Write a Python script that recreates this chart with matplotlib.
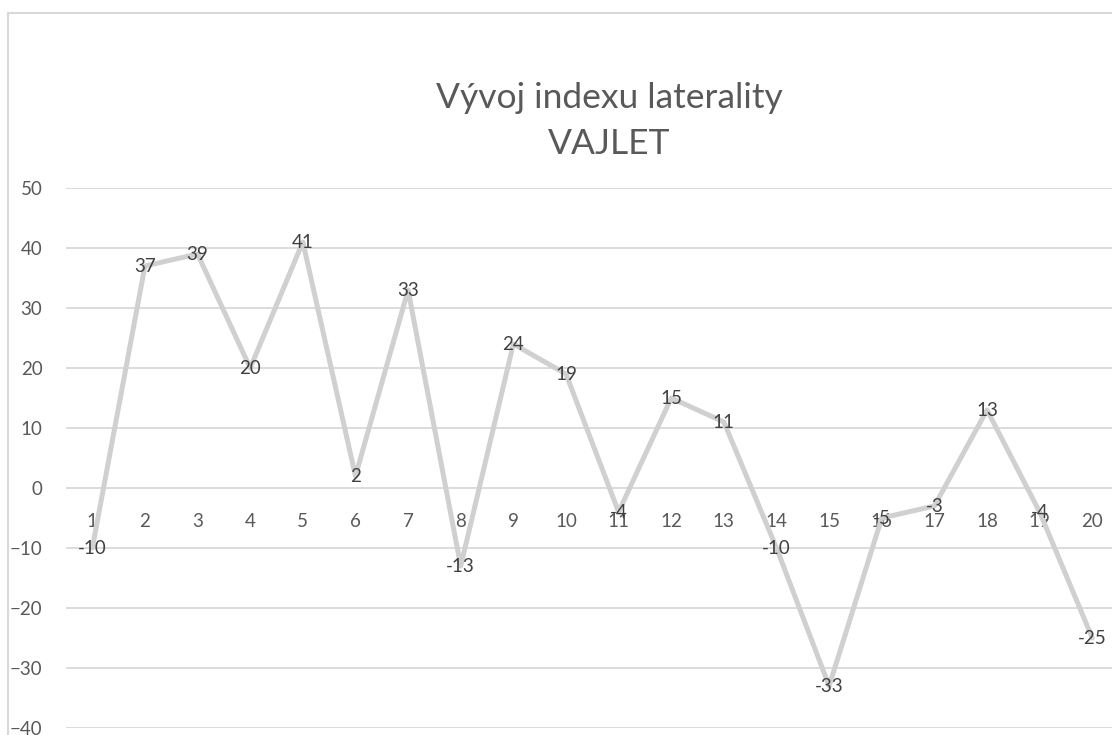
import matplotlib
matplotlib.use("Agg")
import matplotlib.pyplot as plt
from matplotlib.patches import Rectangle

plt.rcParams['font.family'] = ['Lato', 'DejaVu Sans']

sessions = list(range(1, 21))
values = [-10, 37, 39, 20, 41, 2, 33, -13, 24, 19, -4, 15, 11, -10, -33, -5, -3, 13, -4, -25]
y_ticks = [-40, -30, -20, -10, 0, 10, 20, 30, 40, 50]
title = "Vývoj indexu laterality\nVAJLET"

W, H = 1112, 735
fig = plt.figure(figsize=(W / 100, H / 100), dpi=100)

# chart frame (cut off at right and bottom, like the source)
fig.patches.append(Rectangle((8 / W, -0.1), 1.2, 1 - 13 / H + 0.1,
                             transform=fig.transFigure, fill=False,
                             edgecolor='#D9D9D9', linewidth=1.5))

ax = fig.add_axes([66 / W, 7 / H, 1052.6 / W, 540 / H])
ax.set_xlim(0.5, 20.5)
ax.set_ylim(-40, 50)

ax.set_yticks(y_ticks)
ax.yaxis.grid(True, color='#D9D9D9', linewidth=1.3)
ax.set_axisbelow(True)
for s in ax.spines.values():
    s.set_visible(False)
ax.tick_params(axis='y', length=0, pad=17, labelsize=13.5, labelcolor='#595959')

# category axis crosses at 0
ax.spines['bottom'].set_position(('data', 0))
ax.set_xticks(sessions)
ax.set_xticklabels([str(s) for s in sessions])
ax.tick_params(axis='x', length=0, pad=18, labelsize=13.5, labelcolor='#595959')

ax.plot(sessions, values, color='#D0D0D0', linewidth=3.6, solid_joinstyle='round',
        solid_capstyle='round', zorder=3)

for x, v in zip(sessions, values):
    ax.text(x, v, str(v), ha='center', va='center', fontsize=13.5, color='#404040', zorder=4)

fig.text(609 / W, 1 - 121 / H, title, ha='center', va='center', fontsize=25.5,
         color='#595959', linespacing=1.5)

fig.savefig("out.png", dpi=100)
